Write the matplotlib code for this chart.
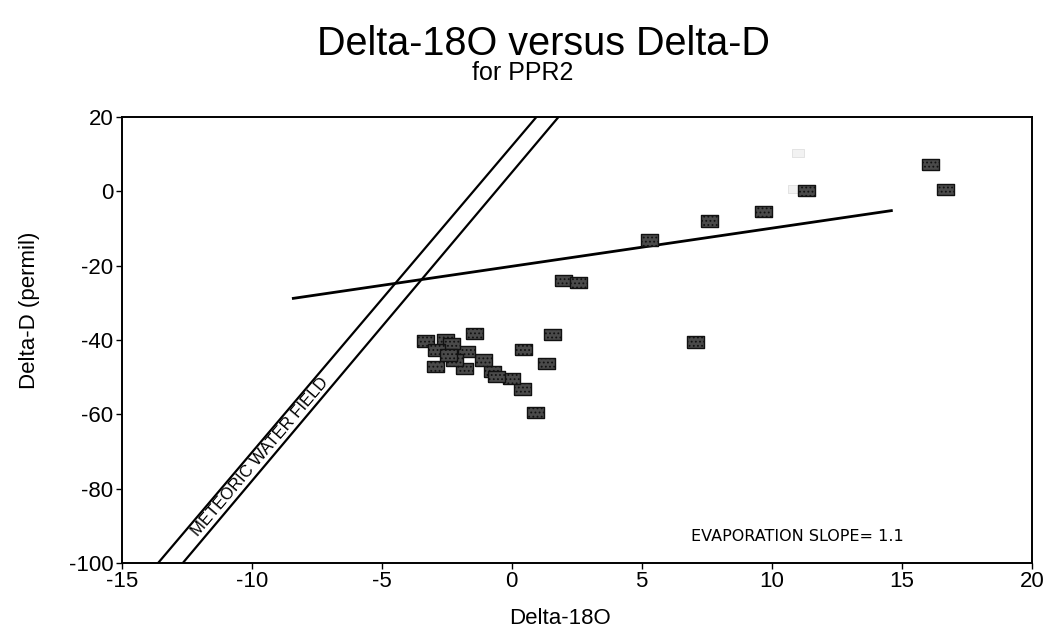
import numpy as np
import matplotlib
matplotlib.use("Agg")
import matplotlib.pyplot as plt

plt.rcParams['font.family'] = ['Liberation Sans', 'DejaVu Sans']
plt.rcParams['axes.unicode_minus'] = False
plt.rcParams['hatch.color'] = '#c8c8c8'
plt.rcParams['hatch.linewidth'] = 0.8

# PPR2 samples: delta-18O and delta-D (permil)
d18o = [16.1, 16.7, 11.35, 9.7, 7.6, 5.3, 2.0, 2.55, 7.05,
        -1.45, 1.55, 0.45, 1.35, 0.9, 0.4, 0.0, -0.75, -0.6, -1.1,
        -1.75, -3.3, -2.55, -2.3, -2.9, -2.95, -1.8, -2.2, -2.45]
dD = [7.3, 0.4, 0.3, -5.5, -8.0, -13.1, -24.0, -24.6, -40.5,
      -38.2, -38.5, -42.5, -46.3, -59.5, -53.2, -50.3, -48.5, -49.8, -45.4,
      -43.1, -40.3, -40.0, -40.9, -42.7, -47.2, -47.6, -45.4, -44.0]

# faded samples
faint_d18o = [11.0, 10.85]
faint_dD = [10.3, 0.5]

# meteoric water field boundaries (endpoints)
mwl_lo_x = [-13.6, 0.95]
mwl_lo_y = [-100, 20]
mwl_hi_x = [-12.65, 1.8]
mwl_hi_y = [-100, 20]

# evaporation trend line
evap_x = [-8.4, 14.6]
evap_y = [-28.8, -5.2]

fig = plt.figure(figsize=(10.51, 6.34), dpi=100)
ax = fig.add_axes([0.1158, 0.112, 0.8659, 0.7035])

ax.plot(mwl_lo_x, mwl_lo_y, color='black', lw=1.6)
ax.plot(mwl_hi_x, mwl_hi_y, color='black', lw=1.6)
ax.plot(evap_x, evap_y, color='black', lw=2.0)

box = [(-1.5, -1), (1.5, -1), (1.5, 1), (-1.5, 1), (-1.5, -1)]
ax.scatter(d18o, dD, marker=box, s=150, facecolor='#4a4a4a',
           edgecolor='#111111', linewidths=1.0, hatch='....', zorder=3)
ax.scatter(faint_d18o, faint_dD, marker=box, s=80, facecolor='#f2f2f2',
           edgecolor='#e0e0e0', linewidths=0.6, zorder=2)

ax.text(-9.68, -71.5, 'METEORIC WATER FIELD', rotation=49.7,
        rotation_mode='anchor', ha='center', va='center', fontsize=12)
ax.text(6.9, -93, 'EVAPORATION SLOPE= 1.1', ha='left', va='center',
        fontsize=11.5, family='DejaVu Sans')

ax.set_xlim(-15, 20)
ax.set_ylim(-100, 20)
ax.set_xticks(np.arange(-15, 21, 5))
ax.set_yticks(np.arange(-100, 21, 20))
ax.tick_params(direction='out', length=4, width=1.0, labelsize=16, pad=2)
for sp in ax.spines.values():
    sp.set_linewidth(1.4)

fig.text(0.517, 0.913, 'Delta-18O versus Delta-D', ha='center',
         va='baseline', fontsize=28.5)
fig.text(0.497, 0.874, 'for PPR2', ha='center', va='baseline', fontsize=18)
fig.text(0.533, 0.025, 'Delta-18O', ha='center', va='center', fontsize=16)
fig.text(0.028, 0.511, 'Delta-D (permil)', ha='center', va='center',
         rotation=90, fontsize=16)

fig.savefig('out.png', dpi=100, facecolor='white')
